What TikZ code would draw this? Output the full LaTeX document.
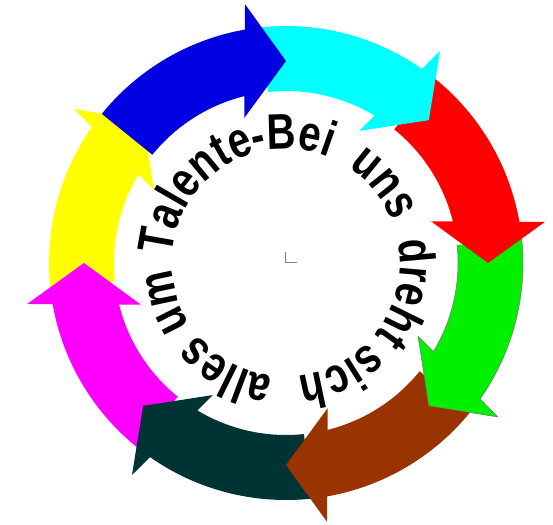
\documentclass[tikz,border=0pt]{standalone}
\usepackage{fontspec}
\setmainfont{Liberation Sans}
\newfontfamily\wafont{Liberation Sans}[FakeStretch=0.8]
\usetikzlibrary{decorations.text}
\definecolor{cBlue}{RGB}{0,0,224}
\definecolor{cCyan}{RGB}{0,255,255}
\definecolor{cRed}{RGB}{255,0,0}
\definecolor{cGreen}{RGB}{0,240,0}
\definecolor{cBrown}{RGB}{153,51,0}
\definecolor{cTeal}{RGB}{0,51,51}
\definecolor{cMagenta}{RGB}{255,0,255}
\definecolor{cYellow}{RGB}{255,255,0}
\newcommand{\ringarrow}[2]{%
  \fill[#2] ({#1+51}:237pt) arc[start angle={#1+51}, end angle={#1+10}, radius=237pt]
    -- ({#1+9}:262pt) -- ({#1}:202pt) -- ({#1+16}:151pt) -- ({#1+14}:172pt)
    arc[start angle={#1+14}, end angle={#1+51}, radius=172pt] -- cycle;}
% word on circle, centred at angle #1
\newcommand{\ringword}[2]{%
  \path[decorate, decoration={text along path,
      text={|\wafont\fontsize{50}{52}\selectfont\bfseries|#2},
      text align=center}]
    ({#1+85}:114pt) arc[start angle={#1+85}, end angle={#1-85}, radius=114pt];}
\begin{document}
\begin{tikzpicture}
\fill[white] (0pt,0pt) rectangle (553pt,524pt);
\useasboundingbox (0pt,0pt) rectangle (553pt,524pt);
\begin{scope}[shift={(286pt,261pt)}]
  \ringarrow{135}{cYellow}
  \ringarrow{180}{cMagenta}
  \ringarrow{-135}{cTeal}
  \ringarrow{-90}{cBrown}
  \ringarrow{-45}{cGreen}
  \draw[black!55, line width=0.5pt] ({-45+51}:237pt) arc[start angle={-45+51}, end angle={-45+10}, radius=237pt]
    -- ({-45+9}:262pt) -- ({-45}:202pt) -- ({-45+16}:151pt) -- ({-45+14}:172pt)
    arc[start angle={-45+14}, end angle={-45+51}, radius=172pt];
  \ringarrow{0}{cRed}
  \ringarrow{45}{cCyan}
  \ringarrow{90}{cBlue}
  \ringword{122}{Talente-Bei}
  \ringword{39}{uns}
  \ringword{-14}{dreht}
  \ringword{-64}{sich}
  \ringword{-119}{alles}
  \ringword{-162}{um}
  \draw[black!50, line width=1pt] (-1pt,11pt) -- (-1pt,0pt) -- (11pt,0pt);
\end{scope}
\end{tikzpicture}
\end{document}
